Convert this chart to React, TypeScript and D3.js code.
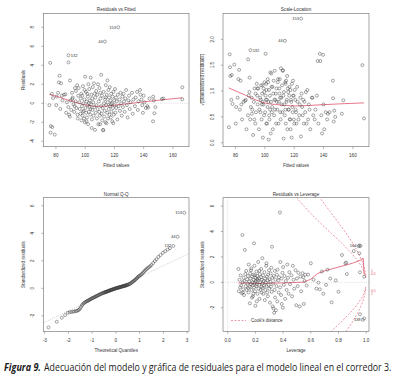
import React, { useLayoutEffect, useRef, useState } from 'react';
import * as d3 from 'd3';

// ---------- DATA ----------
// Residuals vs Fitted: [fitted, residual]
const fittedResid: [number, number][] = [
  [75.5,-0.2],[76.1,4.25],[76.5,-2.4],[77.5,-2.5],[76.3,-3.1],[79.2,-3.3],[77.2,1.0],[78.0,0.55],[80.5,0.7],[80.2,-0.2],
  [82.5,2.9],[82.0,2.2],[83.5,2.1],[81.5,1.1],[84.0,0.8],[83.0,-0.6],[85.5,0.9],[84.5,0.3],
  [88.6,5.05],[88.6,4.3],[89.6,2.4],[86.5,0.95],[87.5,0.1],[88.5,-0.4],[89.0,-1.2],[89.5,-1.4],[90.0,0.3],[90.5,-0.7],
  [91.0,1.1],[91.5,0.6],[92.0,-0.1],[92.5,-0.9],[93.0,1.6],[93.5,0.2],[94.0,-0.5],[94.5,1.9],[95.0,-1.6],[95.2,0.8],
  [94.8,-1.2],[92.8,-0.3],[91.2,0.45],[87.0,-1.0],[93.7,1.3],
  [95.5,1.6],[96,0.1],[96.3,-0.6],[96.8,-1.1],[97,0.5],[97.3,1.0],[97.5,-1.8],[97.8,-0.3],[98,0.8],[98.2,-1.3],
  [98.5,1.8],[98.7,0.0],[99,-0.8],[99.2,-1.6],[99.5,0.4],[99.8,-2.0],[100,2.8],[100.2,-0.5],[100.5,1.2],[100.7,-1.0],
  [101,0.2],[101.2,-1.5],[101.5,-0.2],[101.8,0.7],[102,-2.2],[102.2,2.0],[102.5,-0.9],[102.8,1.5],[103,-0.4],[103.2,0.3],
  [103.5,-1.2],[103.8,2.7],[104,-0.1],[104.2,0.9],[104.4,-2.6],[104.6,-1.7],[104.8,0.5],[105,-0.7],[105.2,1.7],[98.4,-0.9],
  [99.6,1.4],[100.9,-1.9],[102.6,0.0],[103.6,-0.6],[101.4,1.0],
  [105.5,0.1],[105.8,-1.3],[106,2.1],[106.3,-0.4],[106.7,-2.8],[106.9,0.6],[107.2,-1.0],[107.5,1.3],[107.7,-0.2],[108,-1.6],
  [108.2,0.9],[108.5,-0.6],[108.8,2.0],[109,-2.2],[109.3,0.2],[109.6,-0.9],[109.8,1.6],[110,-1.3],[110.2,-2.2],[110.5,0.5],
  [110.8,-0.3],[111,3.0],[111.2,-1.1],[111.5,0.8],[111.7,-1.8],[112,-0.5],[112.2,-2.8],[112.4,-2.85],[112.6,1.2],[112.8,0.0],
  [113.0,-1.4],[113.5,6.5],[113.3,-0.8],[113.6,0.4],[113.9,-2.0],[114.1,1.9],[114.3,-0.2],[114.5,-2.1],[114.8,0.9],[115,-1.0],
  [115.2,2.4],[115.4,0.1],[115.6,-1.6],[115.9,1.4],[116.1,-0.6],[116.3,0.6],[116.6,-1.2],[116.8,1.7],[117,-0.3],[117.3,0.3],
  [117.5,-1.5],[117.8,1.0],[118,-0.9],[118.3,0.0],[118.5,-1.9],[118.8,0.7],[119,-0.5],[119.3,1.2],[119.6,-1.2],[119.8,0.3],
  [106.5,1.0],[110.4,1.1],[114.0,0.6],[117.6,-0.1],[119.2,-2.1],
  [120.1,-0.2],[120.4,1.5],[120.7,-1.0],[121,0.6],[121.3,-0.5],[121.6,0.2],[122,-1.7],[122.3,0.9],[122.6,8.0],[122.9,-0.3],
  [123.5,0.4],[123.8,-0.8],[124.2,1.1],[124.6,0.0],[125,-1.3],[125.4,0.7],[125.8,-0.4],[126.2,1.0],[126.6,0.2],[127,-0.9],
  [127.5,0.5],[128,1.4],[128.5,-0.2],[129,-1.5],[129.5,0.3],[130,0.8],[130.5,-0.6],[131,0.1],[132,1.1],[132.5,-1.1],
  [133,0.4],[134,-0.3],[134.5,0.6],
  [135.5,1.2],[136,-0.7],[136.5,0.2],[137.5,1.4],[137.8,0.9],[138.5,0.4],[139,-0.2],[139.5,-1.0],[140,0.8],[140.5,0.1],
  [141.5,-0.5],[142.5,-0.3],[143,-0.45],[144,0.5],[146.4,-1.9],[146.5,0.7],[147,0.3],[147.3,-1.05],[148,-0.4],
  [152.5,0.45],[153.5,0.5],[166.4,1.68],[166.4,0.42],
];
const residLabels: { x: number; y: number; t: string; side: 'l' | 'r' }[] = [
  { x: 122.6, y: 8.0, t: '153', side: 'l' },
  { x: 113.5, y: 6.5, t: '44', side: 'l' },
  { x: 88.6, y: 5.05, t: '132', side: 'r' },
];
const residSmooth: [number, number][] = [
  [75.5,0.95],[82,0.65],[88,0.35],[93,0.12],[97,-0.05],[101,-0.2],[106,-0.32],[111,-0.32],[117.5,-0.26],
  [123,-0.15],[128.8,-0.05],[135,0.06],[142.4,0.19],[150,0.32],[156,0.42],[166.4,0.58],
];

// Scale-Location: [fitted, sqrt|standardized residual|]
const scaleLocation: [number, number][] = [
  [75.5,0.30],[76.1,1.71],[76.5,1.29],[77.5,1.31],[76.3,1.46],[79.2,1.51],[77.2,0.83],[78.0,0.75],[80.5,0.69],[80.2,0.37],
  [82.5,1.41],[82.0,1.23],[83.5,1.20],[81.5,0.87],[84.0,0.74],[83.0,0.64],[85.5,0.79],[84.5,0.45],
  [90.2,1.79],[88.6,1.61],[89.6,1.26],[86.5,0.81],[87.5,0.26],[88.5,0.53],[89.0,0.91],[89.5,0.98],[90.0,0.45],[90.5,0.69],
  [91.0,0.87],[91.5,0.64],[92.0,0.15],[92.5,0.79],[93.0,1.05],[93.5,0.37],[94.0,0.59],[94.5,1.14],[95.0,1.05],[95.2,0.74],
  [94.8,0.91],[92.8,0.45],[91.2,0.56],[87.0,0.83],[93.7,0.95],
  [95.5,1.05],[96,0.26],[96.3,0.64],[96.8,0.87],[97,0.59],[97.3,0.83],[97.5,1.11],[97.8,0.45],[98,0.74],[98.2,0.95],
  [98.5,1.11],[98.7,0.10],[99,0.74],[99.2,1.05],[99.5,0.53],[99.8,1.17],[100.5,1.72],[100.2,0.59],[100.5,0.91],[100.7,0.83],
  [101,0.37],[101.2,1.02],[101.5,0.37],[101.8,0.69],[102,1.23],[102.2,1.17],[102.5,0.79],[102.8,1.02],[103,0.53],[103.2,0.45],
  [103.5,0.91],[103.8,1.36],[104,0.18],[104.2,0.79],[104.4,1.34],[104.6,1.08],[104.8,0.59],[105,0.69],[105.2,1.08],[98.4,0.79],
  [99.6,0.98],[100.9,1.14],[102.6,0.06],[103.6,0.64],[101.4,0.83],
  [105.5,0.26],[105.8,0.95],[106,1.20],[106.3,0.53],[106.7,1.39],[106.9,0.64],[107.2,0.83],[107.5,0.95],[107.7,0.37],[108,1.05],
  [108.2,0.79],[108.5,0.64],[108.8,1.17],[109,1.23],[109.3,0.37],[109.6,0.79],[109.8,1.05],[110,0.95],[110.2,1.23],[110.5,0.59],
  [110.8,0.45],[111,1.44],[111.2,0.87],[111.5,0.74],[111.7,1.11],[112,0.59],[112.2,1.39],[112.4,1.40],[112.6,0.91],[112.8,0.08],
  [113.0,0.98],[113.7,1.97],[113.3,0.74],[113.6,0.53],[113.9,1.17],[114.1,1.14],[114.3,0.37],[114.5,1.20],[114.8,0.79],[115,0.83],
  [115.2,1.29],[115.4,0.26],[115.6,1.05],[115.9,0.98],[116.1,0.64],[116.3,0.64],[116.6,0.91],[116.8,1.08],[117,0.45],[117.3,0.45],
  [117.5,1.02],[117.8,0.83],[118,0.79],[118.3,0.10],[118.5,1.14],[118.8,0.69],[119,0.59],[119.3,0.91],[119.6,0.91],[119.8,0.45],
  [106.5,0.83],[110.4,0.87],[114.0,0.64],[117.6,0.26],[119.2,1.20],
  [120.1,0.37],[120.4,1.02],[120.7,0.83],[121,0.64],[121.3,0.59],[121.6,0.37],[122,1.08],[122.3,0.79],[124.8,2.40],[122.9,0.45],
  [123.5,0.53],[123.8,0.74],[124.2,0.87],[124.6,0.12],[125,0.95],[125.4,0.69],[125.8,0.53],[126.2,0.83],[126.6,0.37],[127,0.79],
  [127.5,0.59],[128,0.98],[128.5,0.37],[129,1.02],[129.5,0.45],[130,0.74],[130.5,0.64],[131,0.26],[132,0.87],[132.5,0.87],
  [133,0.53],[134,0.45],[134.5,0.64],
  [135.5,0.91],[136,1.58],[136.5,0.37],[137.5,1.72],[137.8,1.58],[138.5,0.53],[139,0.18],[139.7,1.70],[140,0.74],[140.5,0.26],
  [141.5,0.59],[142.5,0.45],[143,0.56],[144,0.59],[146.4,1.20],[146.5,0.86],[147,0.41],[147.3,0.62],[148,0.50],
  [152.5,0.56],[153.5,0.82],[166.5,1.50],[167.6,0.47],
];
const scaleLabels: { x: number; y: number; t: string; side: 'l' | 'r' }[] = [
  { x: 124.8, y: 2.40, t: '153', side: 'l' },
  { x: 113.7, y: 1.97, t: '44', side: 'l' },
  { x: 90.2, y: 1.79, t: '132', side: 'r' },
];
const scaleSmooth: [number, number][] = [
  [75.4,1.06],[81,0.99],[86.8,0.92],[92,0.85],[98.2,0.78],[103,0.75],[107.3,0.74],[114,0.72],[121,0.71],
  [130,0.72],[139.2,0.735],[150,0.75],[158,0.76],[167.6,0.77],
];

// Normal Q-Q: [theoretical quantile, standardized residual]
const qqPoints: [number, number][] = [
  [-2.84,-2.84],[-2.49,-2.43],[-2.28,-2.14],[-2.14,-1.95],[-2.03,-1.78],[-1.95,-1.74],[-1.88,-1.72],[-1.81,-1.70],[-1.75,-1.68],
  [-1.69,-1.66],[-1.64,-1.64],[-1.59,-1.60],[-1.55,-1.55],[-1.51,-1.47],
  [-1.47,-1.36],[-1.43,-1.24],[-1.40,-1.17],[-1.36,-1.10],[-1.33,-1.05],[-1.29,-1.01],[-1.26,-0.97],[-1.22,-0.93],[-1.19,-0.91],
  [-1.16,-0.88],[-1.13,-0.85],[-1.10,-0.82],[-1.07,-0.79],[-1.04,-0.76],[-1.01,-0.73],
  [-0.98,-0.70],[-0.95,-0.68],[-0.92,-0.66],[-0.89,-0.63],[-0.86,-0.60],[-0.83,-0.58],[-0.80,-0.55],[-0.77,-0.52],[-0.74,-0.50],
  [-0.71,-0.47],[-0.68,-0.44],[-0.65,-0.42],[-0.62,-0.40],[-0.59,-0.37],[-0.56,-0.35],[-0.53,-0.33],[-0.50,-0.31],
  [-0.48,-0.30],[-0.46,-0.29],[-0.44,-0.27],[-0.42,-0.26],[-0.40,-0.25],[-0.38,-0.24],[-0.36,-0.22],[-0.34,-0.21],[-0.32,-0.20],
  [-0.30,-0.18],[-0.28,-0.17],[-0.26,-0.16],[-0.24,-0.14],[-0.22,-0.13],[-0.20,-0.12],[-0.18,-0.11],[-0.16,-0.10],[-0.14,-0.08],
  [-0.12,-0.07],[-0.10,-0.06],[-0.08,-0.05],[-0.06,-0.03],[-0.04,-0.02],[-0.02,-0.01],
  [0.00,0.00],[0.02,0.01],[0.04,0.02],[0.06,0.03],[0.08,0.04],[0.10,0.05],[0.12,0.06],[0.14,0.07],[0.16,0.08],[0.18,0.09],
  [0.20,0.10],[0.22,0.11],[0.24,0.12],[0.26,0.13],[0.28,0.14],[0.30,0.15],[0.32,0.16],[0.34,0.17],[0.36,0.18],[0.38,0.19],
  [0.40,0.20],[0.42,0.21],[0.44,0.22],[0.46,0.23],[0.48,0.24],[0.50,0.26],
  [0.53,0.28],[0.56,0.30],[0.59,0.33],[0.62,0.36],[0.65,0.40],[0.68,0.44],[0.71,0.48],[0.74,0.52],[0.77,0.56],[0.80,0.60],
  [0.83,0.65],[0.86,0.70],[0.89,0.75],[0.92,0.80],[0.95,0.85],[0.98,0.90],
  [1.02,0.94],[1.06,1.00],[1.10,1.05],[1.14,1.13],[1.18,1.21],[1.22,1.28],[1.26,1.35],[1.30,1.42],[1.35,1.48],[1.40,1.55],
  [1.45,1.62],[1.50,1.70],
  [1.57,1.84],[1.64,1.98],[1.71,2.12],[1.79,2.28],[1.88,2.42],[1.98,2.58],[2.08,2.70],[2.18,2.82],[2.28,2.92],
  [2.42,3.08],[2.60,3.75],[2.88,5.50],
];
const qqLabels: { x: number; y: number; t: string; side: 'l' | 'r' }[] = [
  { x: 2.88, y: 5.5, t: '153', side: 'l' },
  { x: 2.6, y: 3.75, t: '44', side: 'l' },
  { x: 2.42, y: 3.08, t: '132', side: 'l' },
];
const qqRefLine: [number, number][] = [[-3.1, -2.55], [3.1, 2.55]];

// Residuals vs Leverage: [leverage, standardized residual]
const leverageResid: [number, number][] = [
  [0.077,1.05],[0.08,-0.7],[0.085,0.2],[0.09,-0.4],[0.093,0.55],[0.097,-0.25],[0.10,-0.85],[0.106,3.72],[0.108,0.0],[0.112,-0.55],
  [0.115,0.35],[0.118,-1.0],[0.12,0.1],[0.124,2.55],[0.127,0.65],[0.13,-0.3],[0.134,0.9],[0.137,-0.6],[0.14,0.25],[0.143,-0.1],
  [0.146,0.5],[0.15,-0.8],[0.152,1.4],[0.148,-0.45],[0.11,-0.8],
  [0.155,0.05],[0.158,-0.35],[0.16,-1.65],[0.162,0.7],[0.165,0.3],[0.168,-0.15],[0.17,1.1],[0.172,-0.6],[0.175,0.45],[0.178,-0.25],
  [0.18,0.0],[0.182,-1.1],[0.185,0.6],[0.187,0.2],[0.19,3.07],[0.19,-0.4],[0.193,1.3],[0.195,-0.05],[0.197,-0.7],[0.2,0.35],
  [0.2,-1.85],[0.203,0.1],[0.205,-0.3],[0.208,0.85],[0.21,-0.15],[0.212,0.5],[0.215,-0.9],[0.217,0.15],[0.22,1.6],[0.222,-0.5],
  [0.225,0.3],[0.227,-0.2],[0.23,-1.3],[0.232,0.65],[0.235,0.0],[0.237,-0.6],[0.24,0.4],[0.242,1.05],[0.245,-0.35],[0.247,0.2],
  [0.25,1.9],[0.25,-0.1],[0.175,-1.2],[0.185,-0.9],[0.21,-1.5],[0.228,0.9],[0.244,-0.8],[0.168,0.95],[0.196,0.55],[0.213,0.25],
  [0.252,-0.45],[0.255,0.55],[0.258,-0.9],[0.26,0.1],[0.262,-0.25],[0.265,0.8],[0.268,-1.4],[0.27,0.3],[0.272,-0.6],[0.275,0.0],
  [0.278,1.3],[0.28,-0.3],[0.28,1.5],[0.283,0.45],[0.285,-0.8],[0.288,0.15],[0.29,-1.1],[0.292,0.6],[0.295,-0.2],[0.298,0.95],
  [0.3,-0.5],[0.302,0.25],[0.305,-1.6],[0.308,0.05],[0.31,0.7],[0.312,-0.35],[0.315,1.15],[0.318,-0.75],[0.32,2.8],[0.322,0.35],
  [0.325,-1.9],[0.328,-0.1],[0.33,-2.05],[0.332,0.5],[0.335,-2.4],[0.338,-0.6],[0.34,0.9],[0.342,-1.2],[0.345,0.2],[0.348,-2.2],
  [0.352,-0.3],[0.355,0.6],[0.358,-1.5],[0.36,1.0],[0.365,0.15],[0.368,-0.8],[0.37,0.4],[0.377,5.5],[0.378,-0.4],[0.38,1.6],
  [0.385,-1.0],[0.388,0.3],[0.39,-1.7],[0.395,0.75],[0.398,-2.0],[0.4,1.2],[0.405,-0.2],[0.41,0.5],[0.415,-1.3],[0.42,0.1],
  [0.425,-0.6],[0.43,1.4],[0.435,0.35],[0.44,-0.9],[0.445,0.8],
  [0.45,-0.15],[0.46,0.55],[0.465,-1.1],[0.47,1.3],[0.475,0.2],[0.48,-0.5],[0.49,0.95],[0.495,-1.8],[0.5,0.3],[0.505,-0.3],
  [0.51,0.75],[0.52,-1.9],[0.525,0.45],[0.53,-0.7],[0.54,0.72],[0.545,0.4],[0.55,-1.7],[0.555,0.1],[0.56,0.6],[0.57,-0.25],
  [0.58,0.6],[0.6,1.5],
  [0.62,0.2],[0.64,-0.5],[0.655,-0.03],[0.665,-0.55],[0.68,0.85],[0.69,-0.9],[0.71,-0.2],[0.72,1.0],[0.74,0.3],[0.75,-1.57],
  [0.78,0.15],[0.8,-0.74],
  [0.825,2.15],[0.85,1.5],[0.855,1.55],[0.86,0.65],[0.91,2.46],[0.945,2.85],[0.952,2.9],[0.958,2.86],[0.95,2.28],[0.955,0.79],
  [0.985,0.44],[0.955,-2.52],[0.985,-2.84],[0.975,-2.95],
];
const levLabels: { x: number; y: number; t: string; side: 'l' | 'r' }[] = [
  { x: 0.945, y: 2.87, t: '164', side: 'l' },
  { x: 0.975, y: -2.9, t: '138', side: 'l' },
];
const levSmooth: [number, number][] = [
  [0.077,-0.05],[0.15,-0.07],[0.25,-0.08],[0.35,-0.06],[0.45,-0.03],[0.55,0.02],[0.6,0.25],[0.65,0.7],[0.7,0.9],
  [0.8,1.2],[0.9,1.5],[0.96,1.75],[0.978,1.9],[0.985,0.6],
];
// Cook's distance contours (levels 0.5 and 1), upper branch [leverage, value]
const cookHalf: [number, number][] = [
  [0.45,7.33],[0.5,6.63],[0.55,6.0],[0.6,5.42],[0.65,4.87],[0.7,4.34],[0.75,3.83],[0.8,3.32],[0.85,2.79],[0.9,2.21],
  [0.93,1.82],[0.95,1.52],[0.97,1.17],[0.98,0.95],[0.99,0.67],[0.997,0.36],
];
const cookOne: [number, number][] = [
  [0.6,7.66],[0.65,6.88],[0.7,6.14],[0.75,5.42],[0.8,4.69],[0.85,3.94],[0.9,3.13],[0.93,2.57],[0.95,2.15],[0.97,1.65],
  [0.98,1.34],[0.99,0.94],[0.997,0.51],
];
const cookAxis: { v: number; t: string }[] = [
  { v: 0.943, t: '1' }, { v: 0.667, t: '0.5' }, { v: -0.667, t: '0.5' }, { v: -0.943, t: '1' },
];

const fittedTicks = [80, 100, 120, 140, 160];
const residTicks = [-4, -2, 0, 2, 4, 6, 8];
const slTicks = [0, 0.5, 1.0, 1.5, 2.0];
const qqXTicks = [-3, -2, -1, 0, 1, 2, 3];
const qqYTicks = [-2, 0, 2, 4, 6];
const levXTicks = [0, 0.2, 0.4, 0.6, 0.8, 1.0];
const levYTicks = [-2, 0, 2, 4, 6];

const captionLead = 'Figura 9.';
const captionBody = 'Adecuación del modelo y gráfica de residuales para el modelo lineal en el corredor 3.';

// ---------- STYLE ----------
const FONT = '"Liberation Sans", Arial, sans-serif';
const CAPFONT = '"Open Sans", sans-serif';
const RED = '#DF536B';
const PT = '#3a3a3a';
const AX = '#6a6a6a';
const TXT = '#333';
const FS = 4.6;

type Lab = { x: number; y: number; t: string; side: 'l' | 'r' };

interface PanelProps {
  id: string;
  box: [number, number, number, number];
  xs: d3.ScaleLinear<number, number>;
  ys: d3.ScaleLinear<number, number>;
  xTicks: number[];
  yTicks: number[];
  xFmt: (d: number) => string;
  yFmt: (d: number) => string;
  title: string;
  xLabel: string;
  yLabel: React.ReactNode;
  points: [number, number][];
  labels: Lab[];
  children?: React.ReactNode;
}

function Panel(p: PanelProps) {
  const [x0, x1, y0, y1] = p.box;
  const cx = (x0 + x1) / 2;
  const cy = (y0 + y1) / 2;
  return (
    <g fontFamily={FONT}>
      <defs>
        <clipPath id={p.id}>
          <rect x={x0} y={y0} width={x1 - x0} height={y1 - y0} />
        </clipPath>
      </defs>
      <g clipPath={`url(#${p.id})`}>
        {p.children}
        {p.points.map((d, i) => (
          <circle key={i} cx={p.xs(d[0])} cy={p.ys(d[1])} r={1.5} fill="none" stroke={PT} strokeWidth={0.45} />
        ))}
      </g>
      {p.labels.map((l, i) => (
        <text key={i} x={p.xs(l.x) + (l.side === 'l' ? -2.2 : 2.2)} y={p.ys(l.y)} dy="0.35em"
          textAnchor={l.side === 'l' ? 'end' : 'start'} fontSize={4} fill={TXT}>{l.t}</text>
      ))}
      <rect x={x0} y={y0} width={x1 - x0} height={y1 - y0} fill="none" stroke={AX} strokeWidth={0.6} />
      {p.xTicks.map((t) => (
        <g key={t}>
          <line x1={p.xs(t)} x2={p.xs(t)} y1={y1} y2={y1 + 2.2} stroke={AX} strokeWidth={0.5} />
          <text x={p.xs(t)} y={y1 + 10.6} textAnchor="middle" fontSize={FS} fill={TXT}>{p.xFmt(t)}</text>
        </g>
      ))}
      {p.yTicks.map((t) => (
        <g key={t}>
          <line x1={x0 - 2.2} x2={x0} y1={p.ys(t)} y2={p.ys(t)} stroke={AX} strokeWidth={0.5} />
          <text transform={`translate(${x0 - 9.2},${p.ys(t)}) rotate(-90)`} textAnchor="middle" fontSize={FS} fill={TXT}>{p.yFmt(t)}</text>
        </g>
      ))}
      <text x={cx} y={y0 - 2} textAnchor="middle" fontSize={4.6} fill={TXT}>{p.title}</text>
      <text x={cx} y={y1 + 20} textAnchor="middle" fontSize={4.6} fill={TXT}>{p.xLabel}</text>
      <text transform={`translate(${x0 - 19},${cy}) rotate(-90)`} textAnchor="middle" fontSize={4.6} fill={TXT}>{p.yLabel}</text>
    </g>
  );
}

// Text fitted to a target width by a horizontal scale (measured after layout)
function FitText(props: { x: number; y: number; width: number; children: string; bold?: boolean }) {
  const ref = useRef<SVGTextElement>(null);
  const [sx, setSx] = useState(1);
  useLayoutEffect(() => {
    if (ref.current) {
      const w = ref.current.getComputedTextLength();
      if (w > 0) setSx(props.width / w);
    }
  }, [props.width, props.children]);
  return (
    <text ref={ref} transform={`translate(${props.x},${props.y}) scale(${sx},1)`} fontFamily={CAPFONT} fontSize={10}
      fill="#1a1a1a" fontWeight={props.bold ? 'bold' : 'normal'} fontStyle={props.bold ? 'italic' : 'normal'}>
      {props.children}
    </text>
  );
}

export default function App() {
  const L: [number, number] = [43.5, 189];
  const R: [number, number] = [223, 369];
  const T: [number, number] = [13.3, 146.7];
  const B: [number, number] = [197.7, 331.5];

  const xs1 = d3.scaleLinear().domain([71.5, 171]).range(L);
  const ys1 = d3.scaleLinear().domain([-4.57, 9.47]).range([T[1], T[0]]);
  const xs2 = d3.scaleLinear().domain([71.5, 171]).range(R);
  const ys2 = d3.scaleLinear().domain([-0.077, 2.503]).range([T[1], T[0]]);
  const xs3 = d3.scaleLinear().domain([-3.05, 3.08]).range(L);
  const ys3 = d3.scaleLinear().domain([-3.14, 6.59]).range([B[1], B[0]]);
  const xs4 = d3.scaleLinear().domain([-0.034, 1.02]).range(R);
  const ys4 = d3.scaleLinear().domain([-3.87, 6.66]).range([B[1], B[0]]);

  const line = (xs: d3.ScaleLinear<number, number>, ys: d3.ScaleLinear<number, number>) =>
    d3.line<[number, number]>().x((d) => xs(d[0])).y((d) => ys(d[1]));
  const l1 = line(xs1, ys1);
  const l2 = line(xs2, ys2);
  const l3 = line(xs3, ys3);
  const l4 = line(xs4, ys4);
  const neg = (a: [number, number][]) => a.map((d) => [d[0], -d[1]] as [number, number]);

  const intFmt = (d: number) => String(d);
  const oneFmt = (d: number) => d.toFixed(1);

  return (
    <svg width={396} height={382} viewBox="0 0 396 382" style={{ position: 'absolute', left: 0, top: 0, background: '#fff' }}>
      <rect x={0} y={0} width={396} height={382} fill="#fff" />

      <Panel id="c1" box={[L[0], L[1], T[0], T[1]]} xs={xs1} ys={ys1} xTicks={fittedTicks} yTicks={residTicks}
        xFmt={intFmt} yFmt={intFmt} title="Residuals vs Fitted" xLabel="Fitted values" yLabel="Residuals"
        points={fittedResid} labels={residLabels}>
        <line x1={L[0]} x2={L[1]} y1={ys1(0)} y2={ys1(0)} stroke="#bbb" strokeWidth={0.5} strokeDasharray="1,1.2" />
        <path d={l1(residSmooth) || ''} fill="none" stroke={RED} strokeWidth={0.8} />
      </Panel>

      <Panel id="c2" box={[R[0], R[1], T[0], T[1]]} xs={xs2} ys={ys2} xTicks={fittedTicks} yTicks={slTicks}
        xFmt={intFmt} yFmt={oneFmt} title="Scale-Location" xLabel="Fitted values"
        yLabel={<><tspan>√</tspan><tspan textDecoration="overline">|Standardized residuals|</tspan></>}
        points={scaleLocation} labels={scaleLabels}>
        <path d={l2(scaleSmooth) || ''} fill="none" stroke={RED} strokeWidth={0.8} />
      </Panel>

      <Panel id="c3" box={[L[0], L[1], B[0], B[1]]} xs={xs3} ys={ys3} xTicks={qqXTicks} yTicks={qqYTicks}
        xFmt={intFmt} yFmt={intFmt} title="Normal Q-Q" xLabel="Theoretical Quantiles" yLabel="Standardized residuals"
        points={qqPoints} labels={qqLabels}>
        <path d={l3(qqRefLine) || ''} fill="none" stroke="#999" strokeWidth={0.5} strokeDasharray="1,1.2" />
      </Panel>

      <Panel id="c4" box={[R[0], R[1], B[0], B[1]]} xs={xs4} ys={ys4} xTicks={levXTicks} yTicks={levYTicks}
        xFmt={oneFmt} yFmt={intFmt} title="Residuals vs Leverage" xLabel="Leverage" yLabel="Standardized residuals"
        points={leverageResid} labels={levLabels}>
        <line x1={R[0]} x2={R[1]} y1={ys4(0)} y2={ys4(0)} stroke="#bbb" strokeWidth={0.5} strokeDasharray="1,1.2" />
        <line x1={xs4(0)} x2={xs4(0)} y1={B[0]} y2={B[1]} stroke="#bbb" strokeWidth={0.5} strokeDasharray="1,1.2" />
        <path d={l4(levSmooth) || ''} fill="none" stroke={RED} strokeWidth={0.8} />
        {[cookHalf, cookOne].map((c, i) => (
          <g key={i}>
            <path d={l4(c) || ''} fill="none" stroke={RED} strokeWidth={0.6} strokeDasharray="2,1.5" />
            <path d={l4(neg(c)) || ''} fill="none" stroke={RED} strokeWidth={0.6} strokeDasharray="2,1.5" />
          </g>
        ))}
        <line x1={231} x2={246} y1={ys4(-3.0)} y2={ys4(-3.0)} stroke={RED} strokeWidth={0.6} strokeDasharray="2,1.5" />
        <text x={251} y={ys4(-3.0)} dy="0.35em" fontSize={4.5} fill={TXT} fontFamily={FONT}>Cook's distance</text>
      </Panel>
      {cookAxis.map((c, i) => (
        <text key={i} x={R[1] + 2} y={ys4(c.v)} dy="0.35em" fontSize={3.4} fill={RED} fontFamily={FONT}>{c.t}</text>
      ))}

      <FitText x={4} y={371} width={37} bold>{captionLead}</FitText>
      <FitText x={44} y={371} width={348}>{captionBody}</FitText>
    </svg>
  );
}
